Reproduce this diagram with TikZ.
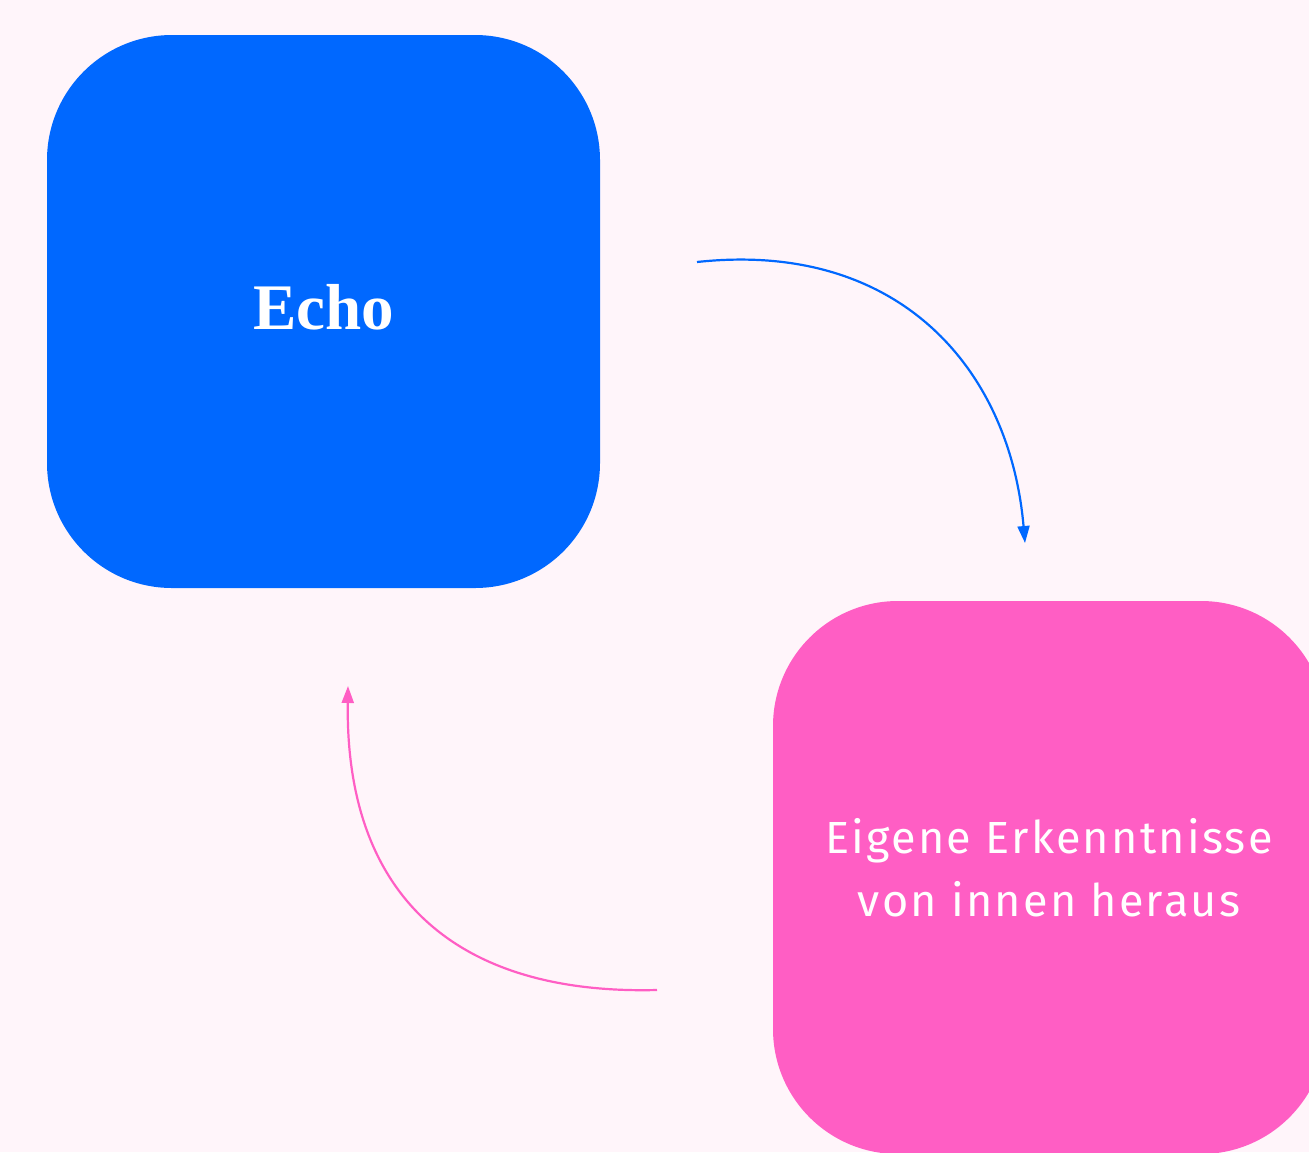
\documentclass[tikz,border=0pt]{standalone}
\usepackage{fontspec}
\setmainfont{Liberation Serif}
\newfontfamily\pinkfont[LetterSpace=5]{Fira Sans}
\usetikzlibrary{arrows.meta}
\definecolor{bgc}{RGB}{255,245,250}
\definecolor{bluec}{RGB}{0,104,255}
\definecolor{pinkc}{RGB}{255,94,196}
\tikzset{
  box/.style={rounded corners=125pt, minimum width=553pt, minimum height=553pt, inner sep=0pt, draw=none},
  conn/.style={line width=2.2pt, -{Triangle[length=17pt,width=12pt]}},
}
\begin{document}
\begin{tikzpicture}[x=1pt,y=-1pt]
\fill[bgc] (0,0) rectangle (1309,1152);
\useasboundingbox (0,0) rectangle (1309,1152);
\node[box, fill=bluec] (echo) at (323.5,311.5) {};
\node[font=\bfseries\fontsize{65}{70}\selectfont, text=white] (echot) at (324,307) {Echo};
\node[box, fill=pinkc] (eig) at (1049.5,877.5) {};
\node[font=\pinkfont\fontsize{45}{63}\selectfont, text=white, align=center] (eigt) at (1049,868) {Eigene Erkenntnisse\\von innen heraus};
\coordinate (b0) at (697,262);
\coordinate (b1) at (1025,543);
\coordinate (p0) at (657,990);
\coordinate (p1) at (348,686);
\draw[conn, bluec] (b0) .. controls (900,240) and (1010,370) .. (b1);
\draw[conn, pinkc] (p0) .. controls (460,995) and (345,900) .. (p1);
\end{tikzpicture}
\end{document}
